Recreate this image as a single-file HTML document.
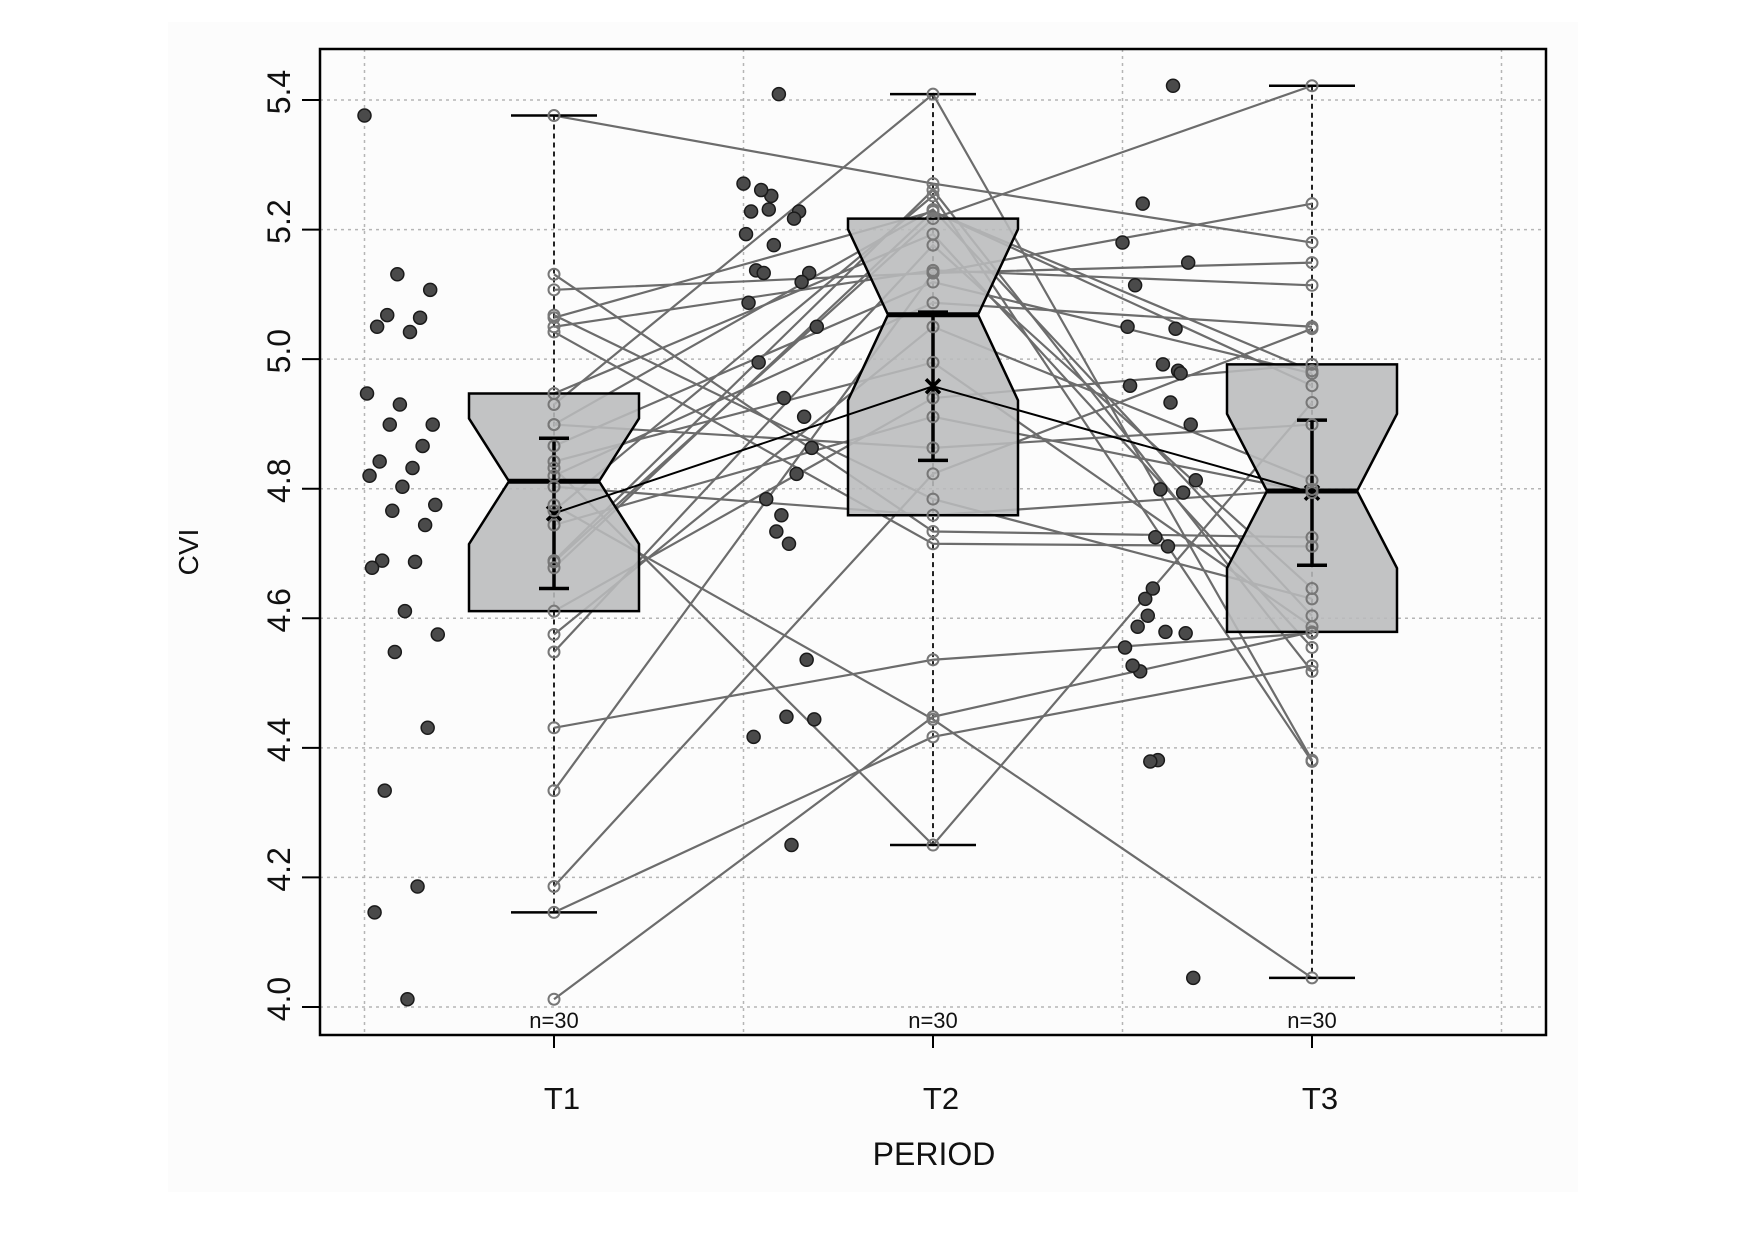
<!DOCTYPE html>
<html><head><meta charset="utf-8"><style>
html,body{margin:0;padding:0;background:#fff}
svg{display:block;font-family:"Liberation Sans",sans-serif}
</style></head><body>
<svg id="chart" width="1748" height="1240" viewBox="0 0 1748 1240" xmlns="http://www.w3.org/2000/svg">
<rect x="168" y="22" width="1410" height="1170" fill="#fcfcfc"/>
<g id="grid"></g>
<g id="lines"></g>
<g id="boxes"></g>
<g id="pts"></g>
<g id="axes"></g>
<text x="198" y="552" transform="rotate(-90 198 552)" text-anchor="middle" font-size="28" fill="#111">CVI</text>
<text x="934" y="1165" text-anchor="middle" font-size="32" fill="#111">PERIOD</text>
</svg>
<script>
const categories = ["T1","T2","T3"];
const t1 = [5.376,5.131,5.107,5.068,5.064,5.050,5.042,4.947,4.930,4.899,4.899,4.866,4.842,4.832,4.820,4.803,4.775,4.766,4.744,4.689,4.687,4.678,4.611,4.575,4.548,4.431,4.334,4.186,4.146,4.012];
const t2 = [5.271,4.734,5.133,4.784,5.228,5.137,4.715,5.193,5.409,4.863,5.231,5.119,4.995,4.250,5.087,4.759,4.444,5.252,4.911,5.261,5.217,5.228,4.940,5.050,5.176,4.536,5.133,4.823,4.417,4.448];
const t3 = [5.180,4.725,5.149,4.630,4.982,5.114,4.711,4.555,4.381,4.899,4.604,4.978,4.587,4.933,5.050,4.799,4.045,4.379,4.794,4.518,5.422,4.959,4.992,4.813,4.646,4.577,5.240,5.047,4.527,4.579];
const yTicks = [4.0,4.2,4.4,4.6,4.8,5.0,5.2,5.4];
const yTickLabels = ["4.0","4.2","4.4","4.6","4.8","5.0","5.2","5.4"];

const NS="http://www.w3.org/2000/svg";
const L=320,R=1546,T=49,B=1035;
const X = c => 554 + (c-1)*379;
const Y = v => 1007 - (v-4.0)/0.2*129.57;
function mk(tag,parent,attrs){const e=document.createElementNS(NS,tag);for(const k in attrs)e.setAttribute(k,attrs[k]);document.getElementById(parent).appendChild(e);return e;}

yTicks.forEach((v,i)=>{
  const g=mk('line','grid',{x1:L,x2:R,y1:Y(v),y2:Y(v),stroke:'#b5b5b5','stroke-width':1.5,'stroke-dasharray':'3,4'});
  
  
});
[0.5,1.5,2.5,3.5].forEach(c=>{
  const g=mk('line','grid',{x1:X(c),x2:X(c),y1:T,y2:B,stroke:'#b5b5b5','stroke-width':1.5,'stroke-dasharray':'3,4'});
  
  
});

const series=[t1,t2,t3];
function stats(a){
  const s=[...a].sort((x,y)=>x-y);const n=s.length;
  const medOf=arr=>{const m=arr.length;return m%2?arr[(m-1)/2]:(arr[m/2-1]+arr[m/2])/2;};
  const med=medOf(s);
  const h=Math.ceil(n/2);
  const q1=medOf(s.slice(0,h)), q3=medOf(s.slice(n-h));
  const iqr=q3-q1;
  const lo=s.find(v=>v>=q1-1.5*iqr), hi=[...s].reverse().find(v=>v<=q3+1.5*iqr);
  const mean=s.reduce((a,b)=>a+b,0)/n;
  const sd=Math.sqrt(s.reduce((a,b)=>a+(b-mean)**2,0)/(n-1));
  const ci=2.045*sd/Math.sqrt(n);
  const notch=1.58*iqr/Math.sqrt(n);
  return {q1,med,q3,lo,hi,mean,ci,notch,n};
}
const st=series.map(stats);

st.forEach((s,i)=>{
  const cx=X(i+1);
  const w=mk('line','lines',{x1:cx,x2:cx,y1:Y(s.hi),y2:Y(s.lo),stroke:'#222','stroke-width':2,'stroke-dasharray':'5,4'});
  
  
});

for(let k=0;k<t1.length;k++){
  const p=mk('polyline','lines',{points:`${X(1)},${Y(t1[k])} ${X(2)},${Y(t2[k])} ${X(3)},${Y(t3[k])}`,fill:'none',stroke:'#6c6c6c','stroke-width':2.2});
  
  
}

st.forEach((s,i)=>{
  const cx=X(i+1),hw=85,nw=45;
  const y3=Y(s.q3),y1=Y(s.q1),ym=Y(s.med),nt=Y(s.med+s.notch),nb=Y(s.med-s.notch);
  const d=`M${cx-hw},${y3} L${cx+hw},${y3} L${cx+hw},${nt} L${cx+nw},${ym} L${cx+hw},${nb} L${cx+hw},${y1} L${cx-hw},${y1} L${cx-hw},${nb} L${cx-nw},${ym} L${cx-hw},${nt} Z`;
  const b=mk('path','boxes',{d,fill:'rgba(185,187,188,0.88)',stroke:'#000','stroke-width':2.5});
  
  
  const m=mk('line','boxes',{x1:cx-nw,x2:cx+nw,y1:ym,y2:ym,stroke:'#000','stroke-width':5});
  
  
  [s.hi,s.lo].forEach(v=>{
    const c=mk('line','boxes',{x1:cx-43,x2:cx+43,y1:Y(v),y2:Y(v),stroke:'#000','stroke-width':2.5});
    
    
  });
  const e=mk('path','boxes',{d:`M${cx},${Y(s.mean+s.ci)} L${cx},${Y(s.mean-s.ci)} M${cx-15},${Y(s.mean+s.ci)} L${cx+15},${Y(s.mean+s.ci)} M${cx-15},${Y(s.mean-s.ci)} L${cx+15},${Y(s.mean-s.ci)}`,stroke:'#000','stroke-width':3.5,fill:'none'});
  
  
  const n=mk('text','boxes',{x:cx,y:1028,'text-anchor':'middle','font-size':22,fill:'#111'});
  n.textContent='n='+s.n;
  
  
});
const ml=mk('polyline','boxes',{points:st.map((s,i)=>`${X(i+1)},${Y(s.mean)}`).join(' '),fill:'none',stroke:'#000','stroke-width':2});


st.forEach((s,i)=>{
  const cx=X(i+1),cy=Y(s.mean);
  const x=mk('path','boxes',{d:`M${cx-7},${cy-7} L${cx+7},${cy+7} M${cx-7},${cy+7} L${cx+7},${cy-7}`,stroke:'#000','stroke-width':3.5});
  
  
});

series.forEach((arr,i)=>{
  arr.forEach((v,k)=>{
    const c=mk('circle','pts',{cx:X(i+1),cy:Y(v),r:5.5,fill:'none',stroke:'#777','stroke-width':2});
    
    
    const jit=-0.5+((k*13)%30)/30*0.2;
    const d=mk('circle','pts',{cx:X(i+1+jit),cy:Y(v),r:6.5,fill:'#4a4a4a',stroke:'#1a1a1a','stroke-width':1.5});
    
    
  });
});

const fr=mk('rect','axes',{x:L,y:T,width:R-L,height:B-T,fill:'none',stroke:'#000','stroke-width':2.5});


yTicks.forEach((v,i)=>{
  const t=mk('line','axes',{x1:L-18,x2:L,y1:Y(v),y2:Y(v),stroke:'#000','stroke-width':2});
  
  
  const cy=Y(v)-8;
  const tx=mk('text','axes',{x:279,y:cy,transform:`rotate(-90 279 ${cy})`,'text-anchor':'middle','dominant-baseline':'central','font-size':32,fill:'#111'});
  tx.textContent=yTickLabels[i];
  
  
});
categories.forEach((c,i)=>{
  const t=mk('line','axes',{x1:X(i+1),x2:X(i+1),y1:B,y2:B+13,stroke:'#000','stroke-width':2});
  
  
  const tx=mk('text','axes',{x:X(i+1)+8,y:1109,'text-anchor':'middle','font-size':31,fill:'#111'});
  tx.textContent=c;
  
  
});
</script>
</body></html>
